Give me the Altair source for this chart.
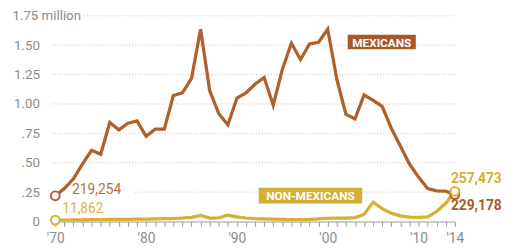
import altair as alt
import pandas as pd

years = list(range(1970, 2015))
mexicans = [0.219, 0.28, 0.364, 0.49, 0.606, 0.572, 0.842, 0.78, 0.836, 0.856,
            0.725, 0.786, 0.786, 1.072, 1.094, 1.217, 1.636, 1.114, 0.919, 0.822,
            1.05, 1.094, 1.169, 1.225, 0.989, 1.294, 1.517, 1.378, 1.511, 1.525,
            1.636, 1.211, 0.913, 0.872, 1.078, 1.03, 0.98, 0.794, 0.642, 0.489,
            0.378, 0.28, 0.261, 0.258, 0.229]
non_mexicans = [0.012, 0.013, 0.014, 0.015, 0.016, 0.017, 0.018, 0.018, 0.019, 0.02,
                0.021, 0.022, 0.024, 0.024, 0.03, 0.036, 0.052, 0.03, 0.032, 0.055,
                0.04, 0.03, 0.025, 0.022, 0.02, 0.018, 0.016, 0.016, 0.018, 0.022,
                0.026, 0.03, 0.028, 0.033, 0.06, 0.165, 0.11, 0.07, 0.048, 0.038,
                0.036, 0.04, 0.085, 0.155, 0.257]
series_names = ["Mexicans", "Non-Mexicans"]
series_colors = ["#B0602A", "#D6AF33"]
y_ticks = [0, 0.25, 0.5, 0.75, 1.0, 1.25, 1.5, 1.75]
x_label_years = [1970, 1980, 1990, 2000, 2010, 2014]

# end-point labels
end_labels = ["219,254", "11,862", "257,473", "229,178"]
end_series = ["Mexicans", "Non-Mexicans", "Non-Mexicans", "Mexicans"]
end_years = [1970, 1970, 2014, 2014]
end_values = [0.219, 0.012, 0.257, 0.229]

# boxed series labels
box_texts = ["MEXICANS", "NON-MEXICANS"]
box_series = ["Mexicans", "Non-Mexicans"]
box_x1 = [2002.2, 1992.4]
box_x2 = [2009.7, 2003.8]
box_y1 = [1.465, 0.154]
box_y2 = [1.588, 0.288]

W, H = 409, 209
FONT = "Roboto"

df = pd.DataFrame({
    "year": years * 2,
    "value": mexicans + non_mexicans,
    "series": ["Mexicans"] * len(years) + ["Non-Mexicans"] * len(years),
})
ends = pd.DataFrame({"year": end_years, "value": end_values, "series": end_series, "label": end_labels})
boxes = pd.DataFrame({"text": box_texts, "series": box_series, "x1": box_x1, "x2": box_x2,
                      "y1": box_y1, "y2": box_y2})
boxes["xc"] = (boxes.x1 + boxes.x2) / 2
boxes["yc"] = (boxes.y1 + boxes.y2) / 2
grid = pd.DataFrame({"v": y_ticks[1:]})

xscale = alt.Scale(domain=[1969.67, 2014], nice=False, zero=False)
yscale = alt.Scale(domain=[0, 1.75], nice=False)
cscale = alt.Scale(domain=series_names, range=series_colors)

label_test = " || ".join(f"datum.value == {y}" for y in x_label_years)
xaxis = alt.Axis(
    values=years, title=None, grid=False, domainColor="#9a9a9a", tickColor="#9a9a9a",
    tickSize=5, labelPadding=5, labelColor="#8c8c8c", labelFont=FONT, labelFontSize=14,
    labelOverlap=False, labelFlush=False, labelBound=False,
    labelExpr=f"({label_test}) ? \"'\" + substring(toString(datum.value), 2, 4) : ''",
)
yaxis = alt.Axis(
    values=y_ticks, title=None, grid=False, domain=False, ticks=False,
    labelOverlap=False, labelBound=False, labelFlush=False,
    labelColor="#8c8c8c", labelFont=FONT, labelFontSize=13.5,
    labelAlign={"condition": {"test": "datum.value == 1.75", "value": "left"}, "value": "right"},
    labelPadding={"condition": {"test": "datum.value == 1.75", "value": 41}, "value": 13},
    labelExpr="datum.value == 1.75 ? '1.75 million' : datum.value == 0 ? '0' : "
              "datum.value >= 1 ? format(datum.value, '.2f') : replace(format(datum.value, '.2f'), '0.', '.')",
)

def X(field):
    return alt.X(field, scale=xscale, axis=xaxis)

def Y(field):
    return alt.Y(field, scale=yscale, axis=yaxis)

grid_style = dict(color="#c4c4c4", strokeDash=[1, 2], strokeWidth=1)
g_base = alt.Chart(grid)
grid_main = g_base.transform_filter("datum.v != 1.75 && datum.v != 0.25").mark_rule(**grid_style).encode(
    y=Y("v:Q"), x=alt.value(0), x2=alt.value(W))
grid_top = g_base.transform_filter("datum.v == 1.75").mark_rule(**grid_style).encode(
    y=Y("v:Q"), x=alt.value(32), x2=alt.value(W))
grid_q = g_base.transform_filter("datum.v == 0.25").mark_rule(**grid_style).encode(
    y=Y("v:Q"), x=alt.value(84), x2=alt.value(W))

lines = alt.Chart(df).mark_line(strokeWidth=3.3, strokeJoin="miter").encode(
    x=X("year:Q"),
    y=Y("value:Q"),
    color=alt.Color("series:N", scale=cscale, legend=None),
    detail="series:N",
)

circ_df = ends.sort_values("series", key=lambda s: s.map({"Mexicans": 0, "Non-Mexicans": 1}))
circles = alt.Chart(circ_df).mark_point(shape="circle", filled=True, fill="white", size=80, strokeWidth=2,
                                        opacity=1).encode(
    x=X("year:Q"), y=Y("value:Q"),
    stroke=alt.Color("series:N", scale=cscale, legend=None),
    order=alt.Order("series:N"),
)

def end_text(label, dx, dy, weight, color):
    return alt.Chart(ends).transform_filter(f"datum.label == '{label}'").mark_text(
        align="left", baseline="middle", dx=dx, dy=dy, font=FONT, fontSize=14,
        fontWeight=weight, color=color).encode(
        x=X("year:Q"), y=Y("value:Q"), text="label:N")

t1 = end_text("219,254", 17, -6, "normal", "#B86F40")
t2 = end_text("11,862", 7, -11, "normal", "#D9B443")
t3 = end_text("257,473", -4, -12, "bold", "#D6AF33")
t4 = end_text("229,178", -4, 12, "bold", "#A9582A")

box_rects = alt.Chart(boxes).mark_rect().encode(
    x=X("x1:Q"), x2="x2:Q",
    y=Y("y1:Q"), y2="y2:Q",
    color=alt.Color("series:N", scale=alt.Scale(domain=series_names, range=["#A9582A", "#D4AE35"]), legend=None),
)
box_text = alt.Chart(boxes).mark_text(color="white", font=FONT, fontSize=12, fontWeight="bold",
                                      align="center", baseline="middle", dy=0.5).encode(
    x=X("xc:Q"), y=Y("yc:Q"), text="text:N")

chart = alt.layer(
    grid_main, grid_top, grid_q, lines, circles, box_rects, box_text, t1, t2, t3, t4
).resolve_scale(color="independent").properties(
    width=W, height=H,
    autosize=alt.AutoSizeParams(type="none"),
    padding={"left": 45, "top": 6, "right": 54, "bottom": 28},
).configure_view(stroke=None)

chart.save("out.html", embed_options={"renderer": "svg", "actions": False})
